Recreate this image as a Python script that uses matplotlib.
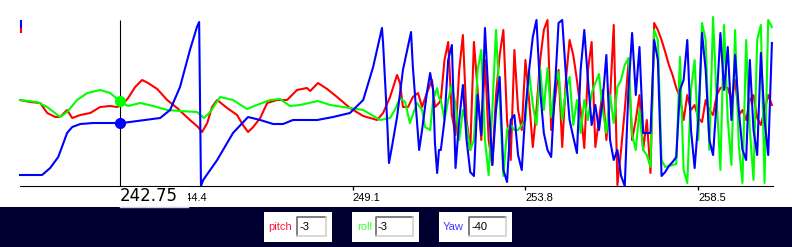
import numpy as np
import matplotlib
matplotlib.use("Agg")
import matplotlib.pyplot as plt
from matplotlib.patches import Rectangle
from matplotlib.lines import Line2D

# --- data (time in s, angle in deg) ---
# smooth part before the oscillations, as vertices
pitch_t0 = [240.06, 240.34, 240.61, 240.80, 241.02, 241.15, 241.34, 241.48, 241.70, 241.97,
            242.24, 242.51, 242.70, 242.84, 243.00, 243.19, 243.38, 243.54, 243.79, 244.06,
            244.33, 244.68, 244.90, 245.01, 245.15, 245.28, 245.42, 245.69, 245.96, 246.12,
            246.26, 246.40, 246.59, 246.78, 247.05, 247.32, 247.59, 247.86, 247.95, 248.16,
            248.41, 248.68, 249.03, 249.39, 249.77, 249.93, 250.12, 250.31, 250.39, 250.47,
            250.61, 250.74, 250.88, 250.99, 251.12, 251.26, 251.34, 251.45]
pitch_v0 = [5, 3, 2, -8, -12, -12, -5, -13, -10, -8,
            -2, -1, -2, 0, 7, 18, 25, 22, 16, 5,
            -3, -15, -22, -27, -18, -2, 5, -3, -10, -20,
            -27, -22, -13, 2, 5, 5, 15, 17, 14, 22,
            16, 8, -3, -11, -15, -8, 8, 30, 22, -2,
            -2, 8, 12, -2, 12, 25, -2, 2]

roll_t0 = [240.06, 240.53, 240.80, 241.15, 241.34, 241.61, 241.89, 242.24, 242.51, 242.84,
           243.00, 243.33, 243.68, 244.06, 244.41, 244.87, 245.06, 245.23, 245.50, 245.85,
           246.23, 246.50, 246.86, 247.13, 247.40, 247.67, 248.16, 248.49, 249.03, 249.39,
           249.85, 250.12, 250.25, 250.39, 250.53, 250.66, 250.85, 250.99, 251.07, 251.21,
           251.29, 251.40, 251.45]
roll_v0 = [5, 3, -2, -12, -7, 5, 12, 15, 12, 2,
           -1, 2, -1, -5, -6, -7, -13, -7, 8, 5,
           -4, 0, 5, 6, -1, 0, 4, 0, -3, -5,
           -15, -13, -5, 7, 3, -18, 2, -5, -22, -25,
           5, 17, 7]

yaw_t0 = [240.06, 240.66, 240.88, 241.10, 241.34, 241.48, 241.70, 242.05, 242.84, 243.87,
          244.14, 244.41, 244.68, 244.87, 244.93, 244.98, 245.04, 245.42, 245.85, 246.26,
          246.59, 246.94, 247.21, 247.48, 248.14, 248.57, 249.03, 249.39, 249.66, 249.90,
          249.93, 250.04, 250.09, 250.17, 250.31, 250.47, 250.69, 250.74, 250.85, 250.91,
          250.99, 251.12, 251.21, 251.29, 251.34, 251.40, 251.45]
yaw_v0 = [-70, -70, -63, -52, -28, -22, -19, -18, -18, -13,
          -5, 18, 55, 78, 83, -81, -75, -55, -28, -12,
          -15, -19, -19, -15, -15, -12, -8, 5, 38, 77,
          62, -15, -58, -42, -12, 35, 73, 38, -15, -45,
          -25, 12, 32, 15, -38, -68, -45]

# oscillating part, sampled every 0.1 s from 251.5 s
t_dense = np.round(np.arange(251.5, 260.55, 0.1), 1)
pitch_v1 = [5, 45, 63, -10, -30, 35, 70, -15, -45, 63, 15, -35, 45, -35, -60, 10, 50, 75, -15, -55, 55, -5,
            -25, 45, 5, -42, -5, 45, 75, 85, -25, 5, 35, -42, 25, 65, 50, 25, -5, -43, 35, 63, -42, -15,
            15, -35, 5, 80, -80, -45, -5, 42, -35, -15, 10, -45, -15, -68, 82, 75, 65, 53, 40, 30, 17, 8,
            -15, 10, -5, 0, -13, -17, 5, -5, -10, 10, 17, 18, 17, 5, 25, -10, -5,
            -15, 5, 10, -13, -20, -5, 10, 0]
roll_v1 = [5, -15, 5, 20, 0, -35, -5, -20, -45, -35, 35, 55, -35, -70, -5, 75, 5, -71, -25, -20, -25, -25,
           -20, -15, 33, 0, -20, 37, -5, 37, -12, 20, 33, -15, 15, 28, -20, 5, -28, 5, -15, 12, 22, 31,
           -5, -28, 10, -18, 18, 25, 40, 47, -30, -45, -5, -45, -50, -62, 75, 65, -55, -62, -61, -60, -59, 48,
           -65, -78, 15, 45, -35, 82, 65, -45, 88, 5, -65, 80, -15, -60, 75, -40, -78,
           65, -25, -75, 65, 80, -78, 85, 78]
yaw_v1 = [-45, -15, 45, 60, -63, -15, 20, -35, -67, -71, 10, -30, 77, 5, -60, -5, 28, -65, -77, -15, -10, -50,
          -65, -5, 35, 68, 85, 15, -28, -45, -52, 15, 82, 85, 30, -15, -32, -48, 35, 75, 25, -20, 0, -25,
          5, 50, -35, -55, -45, -71, -81, 15, 72, 10, 58, -28, -28, -28, 65, 45, -71, -67, -61, -57, -52, 15,
          25, 65, -25, -63, -15, 72, 35, -35, -50, 5, 72, 15, 58, -15, 50, -5, -45,
          -55, 45, -25, -50, 52, -15, -50, 62]

cursor_t = 242.78
cursor_label = "242.75"
tick_vals = [244.4, 249.1, 253.8, 258.5]
fields = ["pitch", "roll", "Yaw"]
field_vals = ["-3", "-3", "-40"]

W, H = 792, 247
fig = plt.figure(figsize=(W / 100, H / 100), dpi=100)
fig.patch.set_facecolor("white")

def fx(x):
    return x / W

def fy(y):
    return 1 - y / H

ax = fig.add_axes([fx(20), fy(186), fx(773) - fx(20), fy(10) - fy(186)])
ax.set_xlim(240.06, 260.53)
ax.set_ylim(-81, 95)

series = [
    (pitch_t0, pitch_v0, pitch_v1, "#ff0000"),
    (roll_t0, roll_v0, roll_v1, "#00ff00"),
    (yaw_t0, yaw_v0, yaw_v1, "#0000ff"),
]
for t0, v0, v1, col in series:
    t = np.concatenate([t0, t_dense])
    v = np.concatenate([v0, v1])
    ax.plot(t, v, color=col, lw=1.5, clip_on=False)

# cursor
ax.vlines(cursor_t, -81, 85, color="black", lw=0.8, zorder=4)
ax.plot([cursor_t], [np.interp(cursor_t, roll_t0, roll_v0)], "o", color="#00ff00", ms=7, zorder=5)
ax.plot([cursor_t], [np.interp(cursor_t, yaw_t0, yaw_v0)], "o", color="#0000ff", ms=7, zorder=5)

for s in ["top", "right", "left"]:
    ax.spines[s].set_visible(False)
ax.spines["bottom"].set_color("black")
ax.set_yticks([])
ax.set_xticks(tick_vals)
ax.set_xticklabels([f"{v:.1f}" for v in tick_vals], family="Liberation Sans", fontsize=8)
ax.tick_params(axis="x", direction="out", length=3, width=1, pad=2, colors="black")
for lbl in ax.get_xticklabels():
    lbl.set_horizontalalignment("left")

# tiny legend mark top-left
fig.add_artist(Line2D([fx(20.5), fx(20.5)], [fy(21), fy(29)], color="#0000ff", lw=1.5))
fig.add_artist(Line2D([fx(20.5), fx(20.5)], [fy(29), fy(32)], color="#ff0000", lw=1.5))

# cursor value box
fig.add_artist(Rectangle((fx(120), fy(206)), fx(68), 19 / H, transform=fig.transFigure,
                         facecolor="white", edgecolor="none", zorder=5))
fig.text(fx(120), fy(201), cursor_label, fontsize=12, family="DejaVu Sans",
         color="black", va="baseline", ha="left", zorder=6)

# bottom control bar
fig.add_artist(Rectangle((0, 0), 1, 40 / H, transform=fig.transFigure,
                         facecolor="#000030", edgecolor="none", zorder=4))
fig.add_artist(Line2D([fx(120), fx(188)], [fy(207), fy(207)], color="#c8d0e4", lw=1, zorder=6))

boxes = [(264, 332, 268, 297, 326, "#ff1a40"),
         (352, 419, 357, 376, 413, "#33ff33"),
         (439, 512, 443, 469, 506, "#3c3cff")]
for (bx0, bx1, lx, ix0, ix1, col), name, val in zip(boxes, fields, field_vals):
    fig.add_artist(Rectangle((fx(bx0), fy(242)), fx(bx1 - bx0), 30 / H, transform=fig.transFigure,
                             facecolor="white", edgecolor="none", zorder=5))
    fig.text(fx(lx), fy(227), name, color=col, fontsize=8, family="Liberation Sans",
             va="center", ha="left", zorder=6)
    fig.add_artist(Rectangle((fx(ix0), fy(236)), fx(ix1 - ix0), 19 / H, transform=fig.transFigure,
                             facecolor="white", edgecolor="none", zorder=6))
    fig.add_artist(Line2D([fx(ix0), fx(ix0), fx(ix1)], [fy(236), fy(217), fy(217)],
                          color="#6a6a6a", lw=1.2, zorder=7))
    fig.add_artist(Line2D([fx(ix0), fx(ix1), fx(ix1)], [fy(236), fy(236), fy(217)],
                          color="#d4d0c8", lw=1.2, zorder=7))
    fig.text(fx(ix0 + 2), fy(226.5), val, color="black", fontsize=8, family="Liberation Sans",
             va="center", ha="left", zorder=8)

fig.savefig("out.png", dpi=100)
